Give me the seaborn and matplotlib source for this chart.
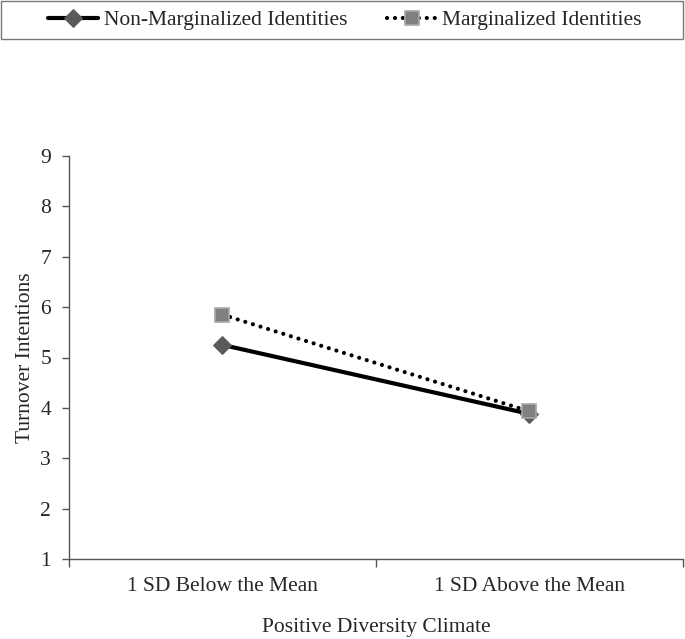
import pandas as pd
import matplotlib.pyplot as plt
from matplotlib.patches import Rectangle
import seaborn as sns

categories = ["1 SD Below the Mean", "1 SD Above the Mean"]
non_marginalized = [5.25, 3.88]
marginalized = [5.85, 3.93]
series_names = ["Non-Marginalized Identities", "Marginalized Identities"]
y_ticks = [1, 2, 3, 4, 5, 6, 7, 8, 9]

df = pd.DataFrame({
    "climate": categories * 2,
    "turnover": non_marginalized + marginalized,
    "group": [series_names[0]] * 2 + [series_names[1]] * 2,
})

sns.set_style("white")
plt.rcParams['font.family'] = ['Liberation Serif', 'DejaVu Serif']
fs = 15.5

fig = plt.figure(figsize=(6.85, 6.39), dpi=100)
ax = fig.add_axes([69 / 685, 1 - 559 / 639, 614 / 685, 403 / 639])

sub = df[df.group == series_names[0]]
sns.lineplot(data=sub, x="climate", y="turnover", ax=ax, color="black", lw=3,
             marker="D", markersize=9, markerfacecolor="#5a5a5a",
             markeredgecolor="#5a5a5a", label=series_names[0])
sub = df[df.group == series_names[1]]
sns.lineplot(data=sub, x="climate", y="turnover", ax=ax, color="black", lw=3,
             linestyle=(0, (0.01, 1.9)), dash_capstyle="round",
             marker="s", markersize=9.5, markerfacecolor="#808080",
             markeredgecolor="#a8a8a8", markeredgewidth=1.2, label=series_names[1])

ax.set_xlim(-0.5, 1.5)
ax.set_ylim(1, 9)
ax.set_yticks(y_ticks)
ax.set_xticks([0, 1])
ax.set_xticklabels(categories, fontsize=fs)
ax.set_xticks([-0.5, 0.5, 1.5], minor=True)
ax.tick_params(axis="x", which="major", length=0, pad=13)
ax.tick_params(axis="x", which="minor", length=6, width=1, color="#555555", direction="out")
ax.tick_params(axis="y", length=5, width=1, color="#555555", direction="out", labelsize=fs, pad=8)
ax.xaxis.set_tick_params(bottom=True, which="minor")
ax.yaxis.set_tick_params(left=True)
for s in ["top", "right"]:
    ax.spines[s].set_visible(False)
for s in ["left", "bottom"]:
    ax.spines[s].set_color("#555555")
    ax.spines[s].set_linewidth(1)

ax.set_xlabel("Positive Diversity Climate", fontsize=fs, labelpad=15.5)
ax.set_ylabel("Turnover Intentions", fontsize=fs, labelpad=4)

ax.get_legend().remove()
handles, labels = ax.get_legend_handles_labels()
fig.patches.append(Rectangle((1 / 685, 1 - 39 / 639), 682 / 685, 38 / 639,
                             transform=fig.transFigure, fill=False,
                             edgecolor="#777777", linewidth=1))
leg = fig.legend(handles, labels, loc="center", bbox_to_anchor=(345 / 685, 1 - 20 / 639),
                 ncol=2, fontsize=fs, frameon=False,
                 handlelength=2.3, handletextpad=0.28, columnspacing=1.85)

fig.savefig("out.png", dpi=100)
